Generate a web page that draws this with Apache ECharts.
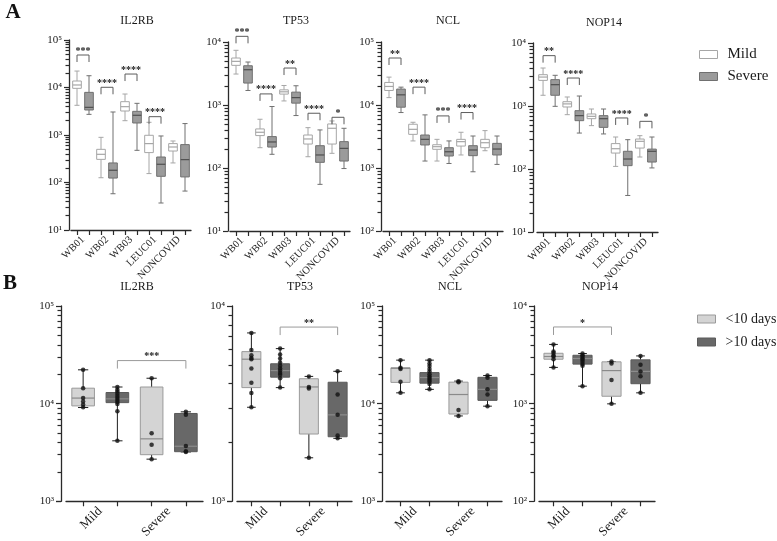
<!DOCTYPE html>
<html><head><meta charset="utf-8">
<script src="https://cdn.jsdelivr.net/npm/echarts@6/dist/echarts.min.js"></script>
<style>html,body{margin:0;padding:0;background:#fff}#c{width:777px;height:541px}</style>
</head><body><div id="c"></div>
<script>
// ================= DATA =================
const genes = ['IL2RB', 'TP53', 'NCL', 'NOP14'];
const groupsA = ['WB01', 'WB02', 'WB03', 'LEUC01', 'NONCOVID'];
const groupsB = ['Mild', 'Severe'];
const seriesNamesA = ['Mild', 'Severe'];
const seriesNamesB = ['<10 days', '>10 days'];
const yRangeA = [[1e1, 1e5], [1e1, 1e4], [1e2, 1e5], [1e1, 1e4]];
const yRangeB = [[1e3, 1e5], [1e3, 1e4], [1e3, 1e5], [1e2, 1e4]];

// Panel A boxes: [min, q1, median, q3, max] per group (WB01..NONCOVID)
const il2rbA_mild   = [[4220, 9600, 11300, 13700, 22200], [126, 307, 392, 499, 893], [2000, 3200, 3950, 5030, 7290], [154, 426, 659, 986, 1850], [258, 460, 559, 659, 748]];
const il2rbA_severe = [[2720, 3360, 3820, 7900, 17700], [58, 124, 181, 258, 3050], [476, 1790, 2600, 3150, 4640], [37, 135, 242, 344, 954], [66, 131, 303, 628, 1740]];
const tp53A_mild    = [[3100, 4260, 4930, 5570, 7380], [210, 327, 369, 417, 594], [1160, 1490, 1620, 1740, 2040], [151, 240, 289, 334, 437], [171, 240, 427, 500, 558]];
const tp53A_severe  = [[1700, 2230, 3630, 4200, 4810], [165, 215, 259, 315, 946], [680, 1070, 1310, 1600, 2020], [55, 123, 161, 226, 402], [98, 129, 205, 262, 427]];
const nclA_mild     = [[13100, 17000, 19700, 22800, 27700], [2690, 3420, 4110, 4950, 5320], [1290, 1980, 2180, 2340, 2850], [1610, 2230, 2620, 2850, 3690], [1880, 2100, 2520, 2850, 3920]];
const nclA_severe   = [[7590, 9230, 14500, 17900, 19200], [1290, 2320, 2850, 3340, 6970], [1180, 1550, 1810, 2100, 2690], [871, 1570, 1930, 2260, 3220], [1140, 1610, 2000, 2460, 3220]];
const nop14A_mild   = [[1480, 2550, 2880, 3140, 4010], [728, 965, 1080, 1170, 1390], [488, 629, 685, 747, 896], [110, 179, 210, 253, 322], [155, 215, 275, 299, 338]];
const nop14A_severe = [[988, 1480, 2180, 2620, 3070], [372, 585, 703, 843, 1440], [360, 458, 629, 703, 896], [38, 113, 144, 191, 292], [104, 129, 191, 207, 322]];

// Panel A significance brackets: [fromBox, toBox, level, stars]
const il2rbA_sig = [[0, 1, 48300, '***'], [2, 3, 10100, '****'], [4, 5, 19200, '****'], [6, 7, 2430, '****']];
const tp53A_sig  = [[0, 1, 12300, '***'], [2, 3, 1500, '****'], [4, 5, 3860, '**'], [6, 7, 740, '****'], [8, 9, 638, '*']];
const nclA_sig   = [[0, 1, 55700, '**'], [2, 3, 19200, '****'], [4, 5, 6710, '***'], [6, 7, 7590, '****']];
const nop14A_sig = [[0, 1, 6300, '**'], [2, 3, 2780, '****'], [6, 7, 646, '****'], [8, 9, 571, '*']];

// Panel B boxes: [Mild, Severe], each [min, q1, median, q3, max]
const il2rbB_lt10 = [[9120, 9480, 11400, 14400, 22200], [2700, 3000, 4360, 14800, 18200]];
const il2rbB_gt10 = [[4160, 10240, 11200, 13000, 14800], [3200, 3220, 3660, 7930, 8240]];
const tp53B_lt10  = [[3030, 3820, 5340, 5840, 7280], [1670, 2210, 3850, 4240, 4360]];
const tp53B_gt10  = [[3820, 4320, 4670, 5060, 6050], [2100, 2140, 2770, 4070, 4630]];
const nclB_lt10   = [[12900, 16500, 23000, 23300, 27900], [7480, 7830, 12400, 16600, 17000]];
const nclB_gt10   = [[14000, 16200, 18500, 20800, 27900], [9420, 10800, 14000, 18600, 19400]];
const nop14B_lt10 = [[2350, 2850, 3040, 3280, 4040], [995, 1190, 2180, 2680, 2700]];
const nop14B_gt10 = [[1510, 2540, 2900, 3130, 3260], [1290, 1600, 2140, 2810, 3080]];

// Panel B individual points: [Mild<10, Mild>10, Severe<10, Severe>10]
const il2rbB_dots = [[22200, 14400, 11400, 10500, 9780, 9180], [14800, 13900, 13300, 12600, 12000, 11400, 10900, 10400, 9930, 8360, 4160], [18200, 4980, 3790, 2700], [8240, 7700, 3690, 3250, 3200]];
const tp53B_dots  = [[7280, 5960, 5600, 5420, 5340, 4790, 4050, 3580, 3030], [6050, 5650, 5380, 5140, 4940, 4790, 4670, 4540, 4440, 4270, 3820], [4360, 3850, 3780, 1670], [4630, 3520, 2770, 2170, 2100]];
const nclB_dots   = [[27900, 23300, 22600, 16800, 12900], [27900, 25800, 24300, 22700, 21300, 20000, 19000, 18300, 17600, 16900, 15900, 14000], [17000, 16600, 8590, 7480], [19400, 18400, 14000, 12400, 9420]];
const nop14B_dots = [[4040, 3420, 3300, 3120, 3040, 2850, 2350], [3260, 3130, 3030, 2900, 2810, 2690, 2540, 2450, 1510], [2700, 2580, 1750, 995], [3080, 2500, 2140, 1910, 1290]];

// Panel B significance brackets
const il2rbB_sig = [[1, 3, 27600, '***']];
const tp53B_sig  = [[1, 3, 7800, '**']];
const nclB_sig   = [];
const nop14B_sig = [[0, 2, 6100, '*']];

// ================= LAYOUT / STYLE =================
const FONT = '"Liberation Serif", "Times New Roman", serif';
const AX = '#2a2a2a', TXT = '#1a1a1a';
const layoutA = [
  { left: 71, top: 40, width: 120, height: 190, off: 2, title: [137, 21] },
  { left: 230, top: 42, width: 120, height: 189, off: 2, title: [296, 21] },
  { left: 383, top: 42, width: 120, height: 189, off: 2, title: [448, 21] },
  { left: 537, top: 43, width: 121, height: 189, off: 4, title: [604, 23] }
];
const layoutB = [
  { left: 66, top: 306, width: 137, height: 198, off: 5, title: [137, 287] },
  { left: 237, top: 306, width: 115, height: 198, off: 5, title: [300, 287] },
  { left: 386, top: 306, width: 116, height: 198, off: 4, title: [450, 287] },
  { left: 539, top: 306, width: 116, height: 198, off: 5, title: [600, 287] }
];
const styleA = [
  { fill: '#ffffff', stroke: '#a6a6a6', median: '#a6a6a6', whisker: '#a6a6a6', box: 0.72, cap: 0.42 },
  { fill: '#9b9b9b', stroke: '#707070', median: '#4f4f4f', whisker: '#707070', box: 0.72, cap: 0.42 }
];
const styleB = [
  { fill: '#d4d4d4', stroke: '#9a9a9a', median: '#8a8a8a', whisker: '#1e1e1e', box: 0.66, cap: 0.3 },
  { fill: '#686868', stroke: '#5a5a5a', median: '#8c8c8c', whisker: '#1e1e1e', box: 0.66, cap: 0.3 }
];

const SUP = { '0': '⁰', '1': '¹', '2': '²', '3': '³', '4': '⁴', '5': '⁵', '6': '⁶', '7': '⁷', '8': '⁸', '9': '⁹' };
function powLabel(v) { const e = Math.round(Math.log10(v)); return '10' + String(e).split('').map(c => SUP[c]).join(''); }

function boxRender(st) {
  return function (params, api) {
    const x = api.value(0);
    const pMin = api.coord([x, api.value(1)]);
    const pQ1 = api.coord([x, api.value(2)]);
    const pMed = api.coord([x, api.value(3)]);
    const pQ3 = api.coord([x, api.value(4)]);
    const pMax = api.coord([x, api.value(5)]);
    const band = api.size([1, 1])[0];
    const bw = band * st.box, cw = band * st.cap, cx = pMed[0];
    const ws = { stroke: st.whisker, lineWidth: 1 };
    return {
      type: 'group', children: [
        { type: 'line', shape: { x1: cx, y1: pMax[1], x2: cx, y2: pQ3[1] }, style: ws },
        { type: 'line', shape: { x1: cx, y1: pQ1[1], x2: cx, y2: pMin[1] }, style: ws },
        { type: 'line', shape: { x1: cx - cw / 2, y1: pMax[1], x2: cx + cw / 2, y2: pMax[1] }, style: ws },
        { type: 'line', shape: { x1: cx - cw / 2, y1: pMin[1], x2: cx + cw / 2, y2: pMin[1] }, style: ws },
        { type: 'rect', shape: { x: cx - bw / 2, y: pQ3[1], width: bw, height: pQ1[1] - pQ3[1] }, style: { fill: st.fill, stroke: st.stroke, lineWidth: 1 } },
        { type: 'line', shape: { x1: cx - bw / 2, y1: pMed[1], x2: cx + bw / 2, y2: pMed[1] }, style: { stroke: st.median, lineWidth: 1.2 } }
      ]
    };
  };
}
function bracketRender(items, color, leg) {
  return function (params, api) {
    const it = items[params.dataIndex];
    const a = api.coord([it[0], it[2]]);
    const b = api.coord([it[1], it[2]]);
    return {
      type: 'group', children: [
        { type: 'polyline', shape: { points: [[a[0], a[1] + leg], [a[0], a[1]], [b[0], b[1]], [b[0], b[1] + leg]] }, style: { stroke: color, lineWidth: 1, fill: null } },
        { type: 'text', x: (a[0] + b[0]) / 2, y: a[1] - 4, style: { text: it[3], font: 'bold 10px ' + FONT, fill: '#222', align: 'center', verticalAlign: 'middle' } }
      ]
    };
  };
}

const panelsA = [
  { mild: il2rbA_mild, severe: il2rbA_severe, sig: il2rbA_sig },
  { mild: tp53A_mild, severe: tp53A_severe, sig: tp53A_sig },
  { mild: nclA_mild, severe: nclA_severe, sig: nclA_sig },
  { mild: nop14A_mild, severe: nop14A_severe, sig: nop14A_sig }
];
const panelsB = [
  { lt: il2rbB_lt10, gt: il2rbB_gt10, dots: il2rbB_dots, sig: il2rbB_sig },
  { lt: tp53B_lt10, gt: tp53B_gt10, dots: tp53B_dots, sig: tp53B_sig },
  { lt: nclB_lt10, gt: nclB_gt10, dots: nclB_dots, sig: nclB_sig },
  { lt: nop14B_lt10, gt: nop14B_gt10, dots: nop14B_dots, sig: nop14B_sig }
];

const grids = [], xAxes = [], yAxes = [], series = [], graphics = [];

function addAxes(L, boxCats, labelCats, range, labelSize) {
  grids.push({ left: L.left, top: L.top, width: L.width, height: L.height });
  const gi = grids.length - 1;
  xAxes.push({
    type: 'category', gridIndex: gi, data: boxCats, boundaryGap: true,
    axisLine: { show: true, onZero: false, lineStyle: { color: AX, width: 1.3 } },
    axisTick: { show: true, alignWithLabel: true, interval: 0, length: 5, lineStyle: { color: AX, width: 1.2 } },
    axisLabel: { show: false }, splitLine: { show: false }
  });
  xAxes.push({
    type: 'category', gridIndex: gi, position: 'bottom', data: labelCats, boundaryGap: true,
    axisLine: { show: false }, axisTick: { show: false }, splitLine: { show: false },
    axisLabel: { show: true, interval: 0, rotate: 45, margin: 8, hideOverlap: false, fontFamily: FONT, fontSize: labelSize, color: TXT }
  });
  yAxes.push({
    type: 'log', gridIndex: gi, min: range[0], max: range[1], offset: L.off,
    axisLine: { show: true, onZero: false, lineStyle: { color: AX, width: 1.3 } },
    axisTick: { show: true, length: 5, lineStyle: { color: AX, width: 1.2 } },
    minorTick: { show: true, splitNumber: 9, length: 3.5, lineStyle: { color: AX, width: 1.2 } },
    axisLabel: { formatter: powLabel, fontFamily: FONT, fontSize: 11, color: TXT, margin: 7 },
    splitLine: { show: true, lineStyle: { color: 'rgba(0,0,0,0)' } }
  });
  return { xi: xAxes.length - 2, yi: yAxes.length - 1 };
}

const boxCatsA = [];
groupsA.forEach(g => seriesNamesA.forEach(s => boxCatsA.push(g + ' ' + s)));
const boxCatsB = [];
groupsB.forEach(g => seriesNamesB.forEach(s => boxCatsB.push(g + ' ' + s)));

panelsA.forEach((p, i) => {
  const L = layoutA[i];
  const ax = addAxes(L, boxCatsA, groupsA, yRangeA[i], 10.5);
  [p.mild, p.severe].forEach((arr, s) => {
    series.push({
      type: 'custom', name: seriesNamesA[s], xAxisIndex: ax.xi, yAxisIndex: ax.yi, z: 3,
      renderItem: boxRender(styleA[s]), encode: { x: 0, y: [1, 2, 3, 4, 5] },
      itemStyle: { color: styleA[s].fill, borderColor: styleA[s].stroke },
      data: arr.map((b, k) => [2 * k + s].concat(b))
    });
  });
  series.push({
    type: 'custom', name: 'sigA' + i, xAxisIndex: ax.xi, yAxisIndex: ax.yi, z: 4,
    renderItem: bracketRender(p.sig, '#5c5c5c', 7), encode: { x: [0, 1], y: 2 },
    data: p.sig.map(d => [d[0], d[1], d[2]])
  });
  graphics.push({ type: 'text', x: L.title[0], y: L.title[1], style: { text: genes[i], font: '12px ' + FONT, fill: TXT, align: 'center', verticalAlign: 'middle' } });
});

panelsB.forEach((p, i) => {
  const L = layoutB[i];
  const ax = addAxes(L, boxCatsB, groupsB, yRangeB[i], 13);
  [p.lt, p.gt].forEach((arr, s) => {
    series.push({
      type: 'custom', name: seriesNamesB[s], xAxisIndex: ax.xi, yAxisIndex: ax.yi, z: 3,
      renderItem: boxRender(styleB[s]), encode: { x: 0, y: [1, 2, 3, 4, 5] },
      itemStyle: { color: styleB[s].fill, borderColor: styleB[s].stroke },
      data: arr.map((b, k) => [2 * k + s].concat(b))
    });
  });
  const dots = [];
  p.dots.forEach((vals, k) => vals.forEach(v => dots.push([k, v])));
  series.push({
    type: 'scatter', name: 'pts' + i, xAxisIndex: ax.xi, yAxisIndex: ax.yi, z: 5,
    symbol: 'circle', symbolSize: 4.5, itemStyle: { color: '#111' }, data: dots
  });
  series.push({
    type: 'custom', name: 'sigB' + i, xAxisIndex: ax.xi, yAxisIndex: ax.yi, z: 4,
    renderItem: bracketRender(p.sig, '#9a9a9a', 8), encode: { x: [0, 1], y: 2 },
    data: p.sig.map(d => [d[0], d[1], d[2]])
  });
  graphics.push({ type: 'text', x: L.title[0], y: L.title[1], style: { text: genes[i], font: '12px ' + FONT, fill: TXT, align: 'center', verticalAlign: 'middle' } });
});

graphics.push({ type: 'text', x: 13, y: 13, style: { text: 'A', font: 'bold 21px ' + FONT, fill: '#111', align: 'center', verticalAlign: 'middle' } });
graphics.push({ type: 'text', x: 10, y: 284, style: { text: 'B', font: 'bold 21px ' + FONT, fill: '#111', align: 'center', verticalAlign: 'middle' } });

const chart = echarts.init(document.getElementById('c'), null, { renderer: 'canvas', width: 777, height: 541 });
chart.setOption({
  animation: false,
  backgroundColor: '#ffffff',
  grid: grids,
  xAxis: xAxes,
  yAxis: yAxes,
  legend: [
    {
      orient: 'vertical', left: 699, top: 47, padding: 0, itemGap: 7, itemWidth: 18, itemHeight: 8, icon: 'rect', selectedMode: false,
      textStyle: { fontFamily: FONT, fontSize: 15, color: TXT, padding: [0, 0, 0, 5] },
      data: seriesNamesA.map((n, s) => ({ name: n, itemStyle: { color: styleA[s].fill, borderColor: styleA[s].stroke, borderWidth: 1 } }))
    },
    {
      orient: 'vertical', left: 697, top: 312, padding: 0, itemGap: 9, itemWidth: 18, itemHeight: 8, icon: 'rect', selectedMode: false,
      textStyle: { fontFamily: FONT, fontSize: 14, color: TXT, padding: [0, 0, 0, 5] },
      data: seriesNamesB.map((n, s) => ({ name: n, itemStyle: { color: styleB[s].fill, borderColor: styleB[s].stroke, borderWidth: 1 } }))
    }
  ],
  graphic: graphics,
  series: series
});
</script>
</body></html>
